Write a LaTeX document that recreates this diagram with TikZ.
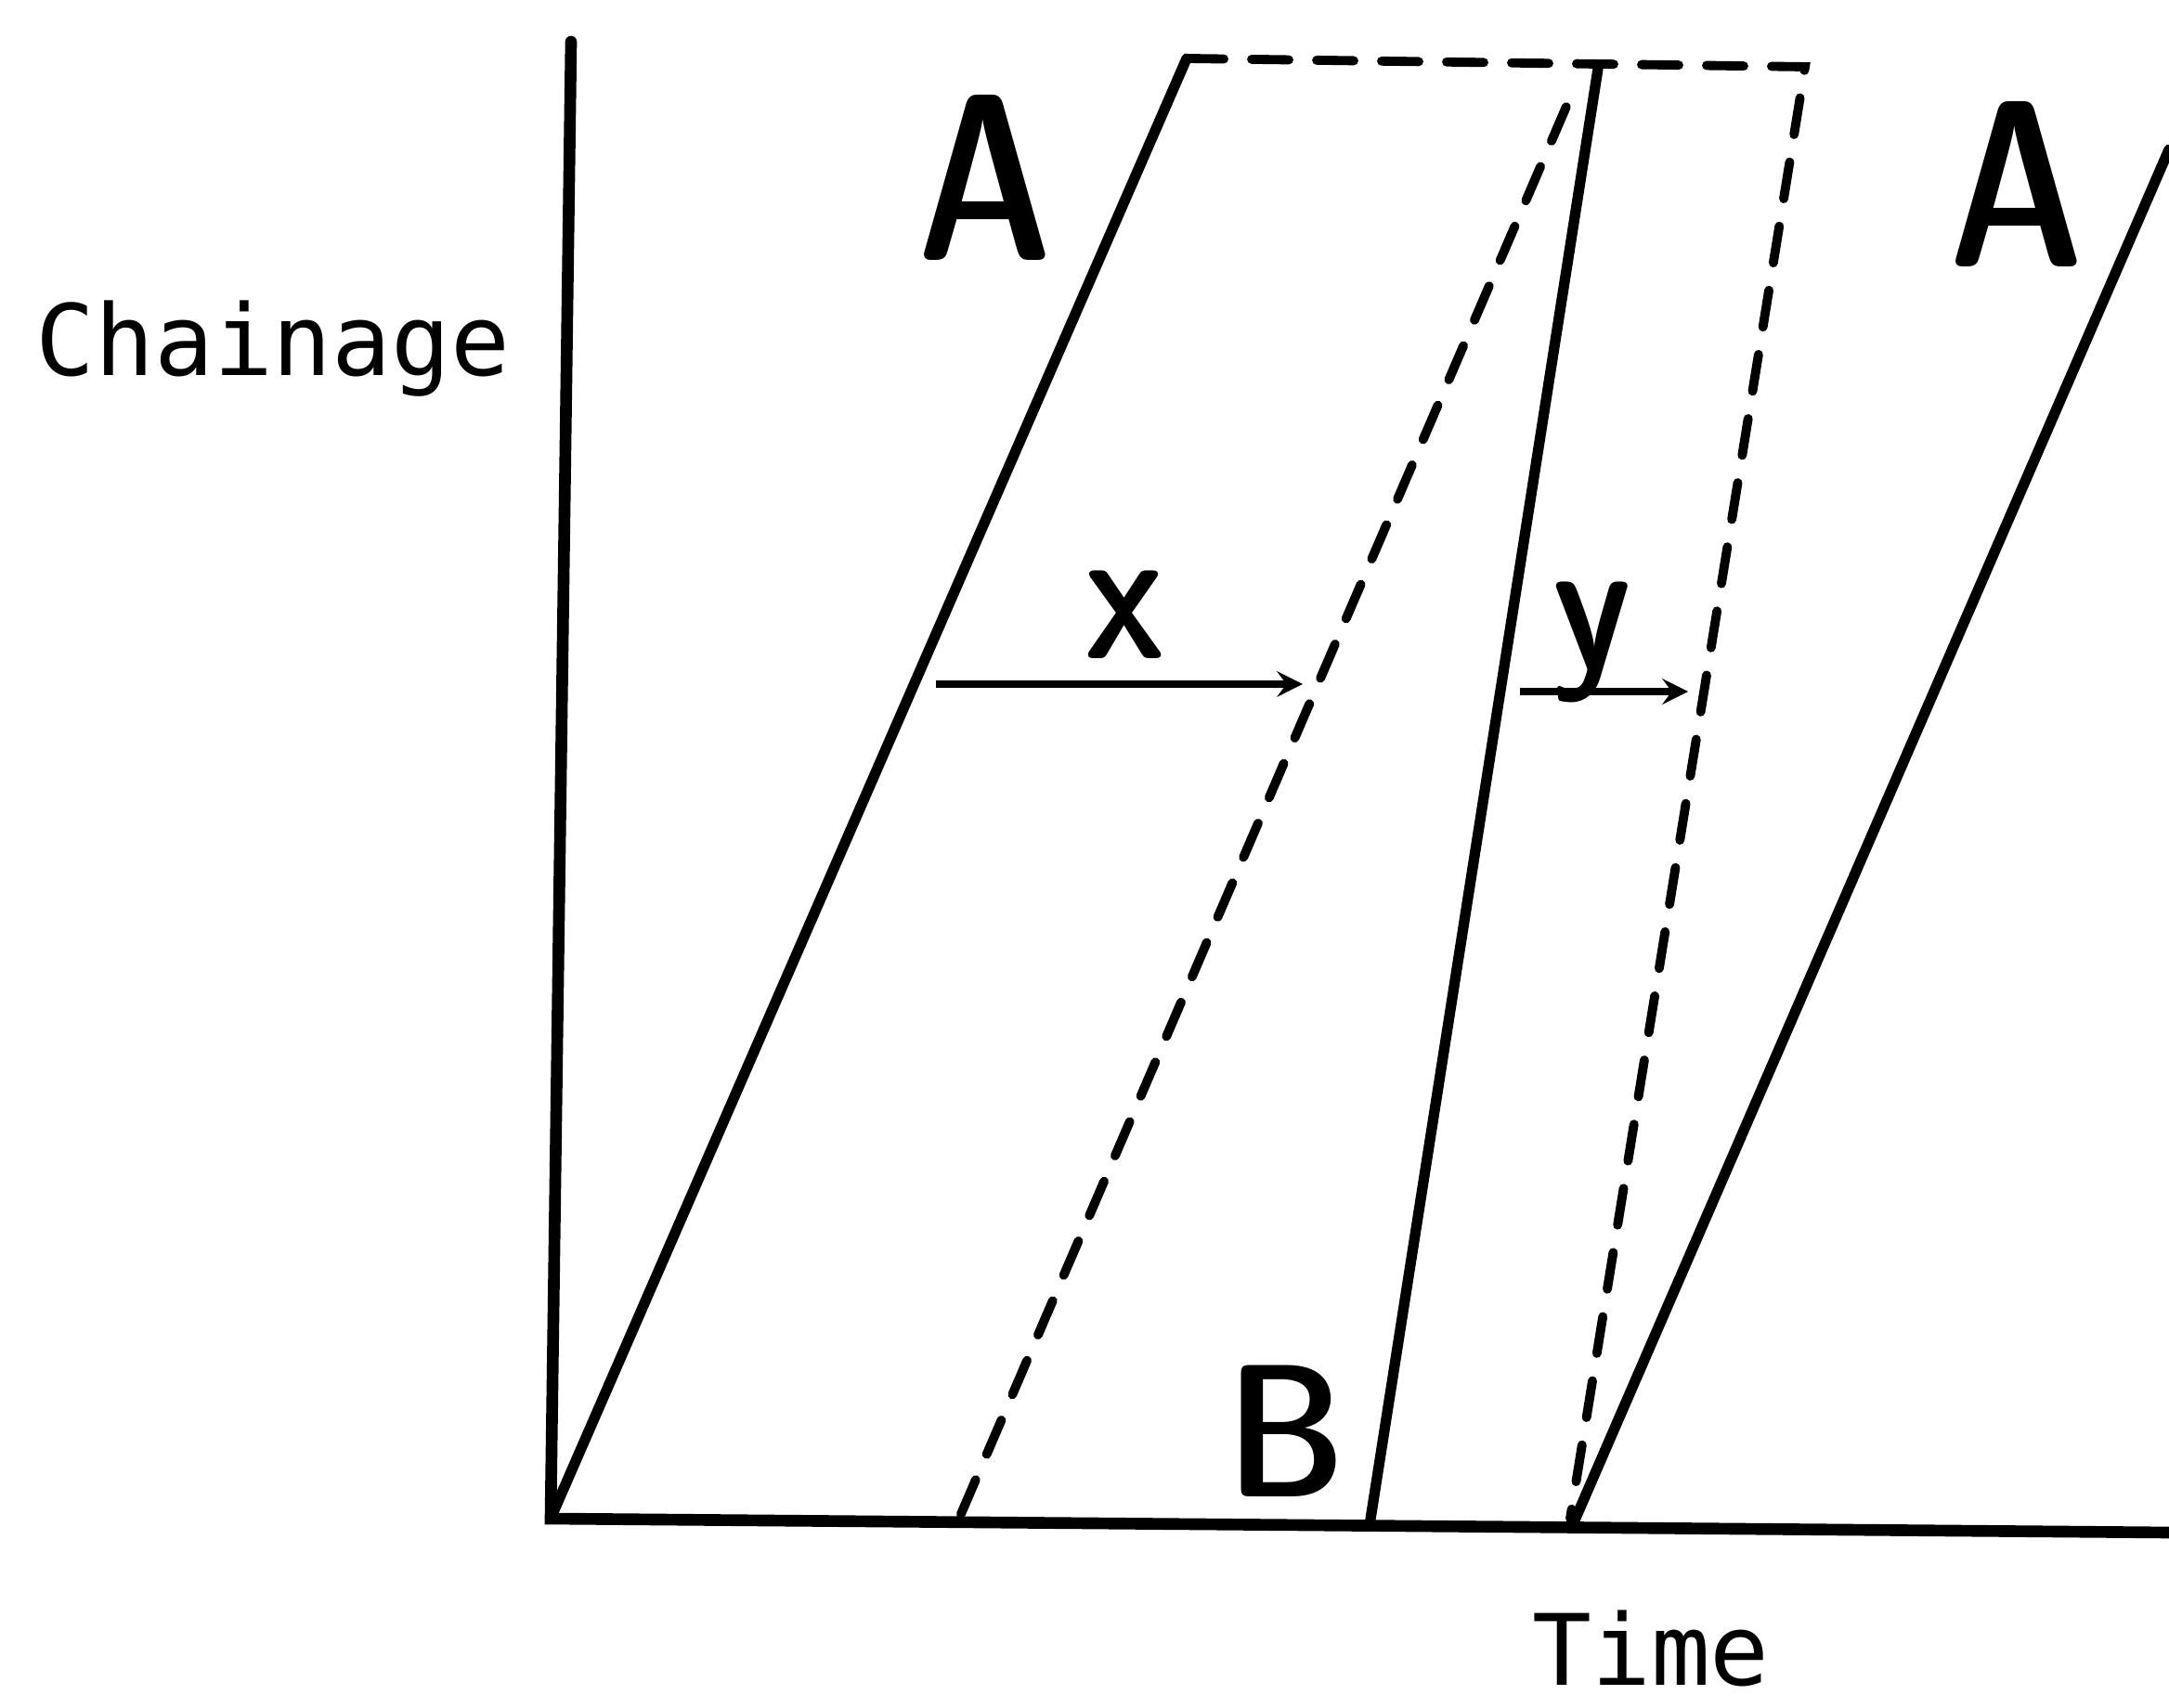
\documentclass[tikz,border=0pt]{standalone}
\usepackage{fontspec}
\usepackage{tikz}
\usetikzlibrary{positioning}
\newfontfamily\plotfont{DejaVu Sans Mono}
\begin{document}
\begin{tikzpicture}[
	    >=stealth,
	    axis/.style={line width=3.6pt, line cap=round},
	    run/.style={line width=3.2pt, line cap=round},
	    gap/.style={line width=2.8pt, line cap=round, dash pattern=on 0.4cm off 0.3cm},
	    arrow/.style={->, line width=2.4pt},
	    big/.style={inner sep=0pt, font=\sffamily\fontseries{sbc}\fontsize{73}{73}\selectfont},
	    mid/.style={inner sep=0pt, font=\sffamily\fontseries{sbc}\fontsize{58}{58}\selectfont},
	    small/.style={inner sep=0pt, font=\sffamily\fontseries{sbc}\fontsize{57}{57}\selectfont},
	    word/.style={inner sep=0pt, font=\plotfont\fontsize{30.2}{36}\selectfont}
	]
		\useasboundingbox (0,0) rectangle (23.36,18.39);

		\coordinate (o) at (5.93, 2.03);
		\coordinate (ytop) at (6.15, 17.94);
		\coordinate (xend) at (23.36, 1.88);

		\coordinate (a1top) at (12.78, 17.76);
		\coordinate (boxr) at (19.44, 17.67);
		\coordinate (boxb) at (16.91, 2.03);

		\coordinate (d1top) at (16.98, 17.50);
		\coordinate (d1bot) at (10.35, 2.08);

		\coordinate (btop) at (17.21, 17.65);
		\coordinate (bbot) at (14.75, 1.96);

		\coordinate (a2bot) at (16.95, 1.99);
		\coordinate (a2top) at (23.36, 16.78);

		\coordinate (x1) at (10.08, 11.02);
		\coordinate (x2) at (14.03, 11.02);
		\coordinate (y1) at (16.37, 10.94);
		\coordinate (y2) at (18.18, 10.94);

		\node[word, anchor=base] (chain) at (2.94, 14.34) {Chainage};
		\node[word, anchor=base] (time) at (17.78, 0.24) {Time};

		\node[big] (la1) at (10.61, 16.48) {\scalebox{0.9}[1]{A}};
		\node[big] (la2) at (21.72, 16.41) {\scalebox{0.9}[1]{A}};
		\node[mid] (lb) at (13.85, 2.97) {B};
		\node[small] (lx) at (12.12, 11.77) {x};
		\node[small, anchor=base] (ly) at (17.15, 11.17) {y};

		\draw[axis] (ytop) -- (o) -- (xend);

		\draw[run] (o) -- (a1top);
		\draw[run] (bbot) -- (btop);
		\draw[run] (a2bot) -- (a2top);

		\draw[gap] (a1top) -- (boxr) -- (boxb);
		\draw[gap] (d1bot) -- (d1top);

		\draw[arrow] (x1) -- (x2);
		\draw[arrow] (y1) -- (y2);
	\end{tikzpicture}
\end{document}
